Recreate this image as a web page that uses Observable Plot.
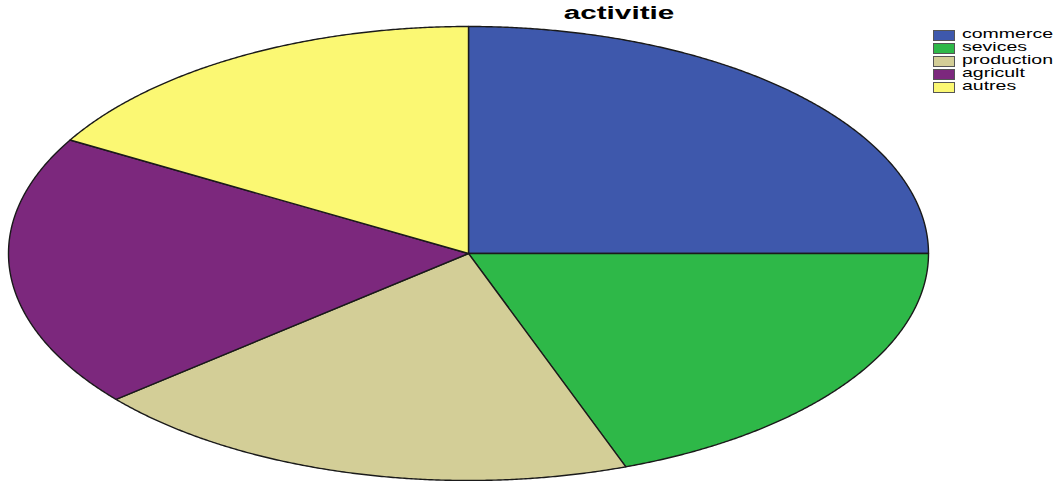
<!DOCTYPE html>
<html>
<head>
<meta charset="utf-8">
<script src="https://cdn.jsdelivr.net/npm/d3@7"></script>
<script src="https://cdn.jsdelivr.net/npm/@observablehq/plot@0.6"></script>
<style>
  html, body { margin: 0; padding: 0; background: #fff; }
  #wrap { position: relative; width: 1064px; height: 481px; overflow: hidden; font-family: "Liberation Sans", Arial, sans-serif; }
  #chart { position: absolute; left: 0; top: 0; }
  #title { position: absolute; left: 619px; top: 3px; transform: translateX(-50%) scaleX(1.65); font-weight: bold; font-size: 18px; color: #000; white-space: nowrap; line-height: 20px; }
  #legend { position: absolute; left: 933px; top: 29px; }
  .row { height: 13px; position: relative; }
  .sw { position: absolute; left: 0; top: 1px; width: 20px; height: 9px; border: 1px solid #555; }
  .lb { position: absolute; left: 29px; top: -2px; font-size: 13px; line-height: 14px; color: #000; transform-origin: 0 50%; transform: scaleX(1.5); white-space: nowrap; }
</style>
</head>
<body>
<div id="wrap">
  <div id="chart"></div>
  <div id="title"></div>
  <div id="legend"></div>
</div>
<script>
const title = "activitie";
const categories = ["commerce", "sevices", "production", "agricult", "autres"];
const counts = [9, 7, 7, 7, 6];
const colors = ["#3E58AC", "#2EB848", "#D3CE97", "#7C287D", "#FBF873"];

const data = categories.map((c, i) => ({category: c, count: counts[i]}));
const arcs = d3.pie().sort(null).value(d => d.count)(data);

// Outline of each slice in unit-circle coordinates (geometry only)
const outline = arcs.flatMap(a => {
  const n = Math.max(2, Math.ceil((a.endAngle - a.startAngle) / 0.005));
  const pts = [{category: a.data.category, x: 0, y: 0}];
  for (let i = 0; i <= n; i++) {
    const t = a.startAngle + (a.endAngle - a.startAngle) * i / n;
    pts.push({category: a.data.category, x: Math.sin(t), y: Math.cos(t)});
  }
  return pts;
});

const chart = Plot.plot({
  width: 1064,
  height: 481,
  marginLeft: 8,
  marginRight: 136,
  marginTop: 26,
  marginBottom: 1,
  x: {domain: [-1, 1], axis: null},
  y: {domain: [-1, 1], axis: null},
  color: {domain: categories, range: colors},
  marks: [
    Plot.line(outline, {
      x: "x", y: "y", z: "category", fill: "category",
      stroke: "#1a1a1a", strokeWidth: 1.4, curve: "linear-closed"
    })
  ]
});
document.getElementById("chart").appendChild(chart);
document.getElementById("title").textContent = title;

const legend = document.getElementById("legend");
categories.forEach((c, i) => {
  const row = document.createElement("div");
  row.className = "row";
  const sw = document.createElement("div");
  sw.className = "sw";
  sw.style.background = colors[i];
  const lb = document.createElement("div");
  lb.className = "lb";
  lb.textContent = c;
  row.appendChild(sw);
  row.appendChild(lb);
  legend.appendChild(row);
});
</script>
</body>
</html>
